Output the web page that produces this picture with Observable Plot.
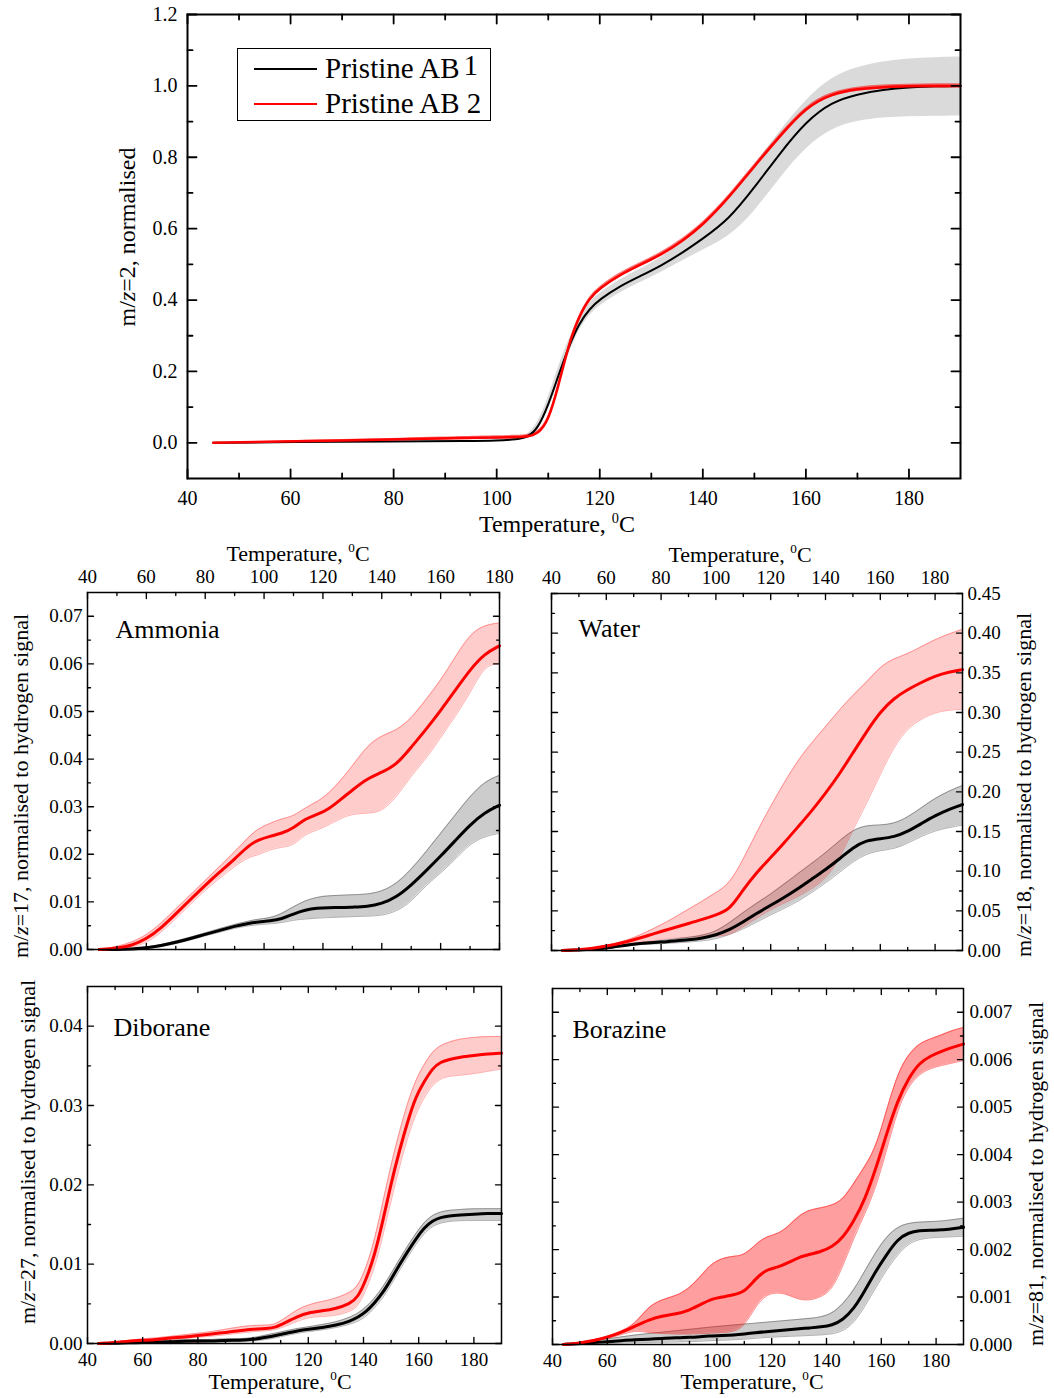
<!DOCTYPE html>
<html><head><meta charset="utf-8">
<script src="https://cdn.jsdelivr.net/npm/d3@7"></script>
<script src="https://cdn.jsdelivr.net/npm/@observablehq/plot@0.6"></script>
<style>
html,body{margin:0;padding:0;background:#fff;}
#page{position:relative;width:1054px;height:1398px;overflow:hidden;font-family:"Liberation Serif","Times New Roman",serif;color:#000;background:#fff;}
.panel{position:absolute;}
.t{position:absolute;white-space:nowrap;line-height:1;}
.t sup{font-size:0.6em;line-height:0;vertical-align:0;position:relative;top:-0.62em;}
.leg{position:absolute;border:1px solid #000;background:#fff;}
.legline{position:absolute;height:0;}
</style></head><body><div id="page"></div>
<script>
// ---------- Data ----------
// Top panel: m/z = 2 (hydrogen), normalised
const h2_T      = [45, 60, 80, 95, 100, 104, 106, 108, 110, 112, 114, 116, 118, 120, 124, 128, 132, 136, 140, 145, 150, 155, 160, 165, 170, 175, 180, 185, 190];
const h2_ab1    = [0, 0.002, 0.004, 0.005, 0.006, 0.009, 0.016, 0.04, 0.105, 0.19, 0.27, 0.335, 0.375, 0.402, 0.44, 0.468, 0.497, 0.532, 0.572, 0.625, 0.715, 0.812, 0.9, 0.955, 0.977, 0.989, 0.996, 0.999, 1.0];
const h2_ab1_lo = [0, 0.002, 0.004, 0.005, 0.005, 0.007, 0.012, 0.03, 0.09, 0.17, 0.25, 0.318, 0.358, 0.385, 0.422, 0.45, 0.478, 0.51, 0.54, 0.575, 0.645, 0.743, 0.828, 0.881, 0.902, 0.911, 0.914, 0.915, 0.916];
const h2_ab1_hi = [0, 0.002, 0.004, 0.005, 0.007, 0.012, 0.022, 0.055, 0.125, 0.215, 0.29, 0.352, 0.392, 0.42, 0.458, 0.487, 0.518, 0.565, 0.612, 0.687, 0.777, 0.875, 0.962, 1.025, 1.053, 1.068, 1.076, 1.079, 1.081];
const h2_ab2    = [0, 0.004, 0.009, 0.014, 0.015, 0.016, 0.017, 0.025, 0.06, 0.16, 0.278, 0.355, 0.405, 0.433, 0.472, 0.5, 0.528, 0.565, 0.61, 0.686, 0.775, 0.86, 0.94, 0.978, 0.992, 0.997, 0.999, 1.0, 1.0];
const h2_ab2_lo = [0, 0.001, 0.005, 0.009, 0.01, 0.011, 0.012, 0.019, 0.054, 0.154, 0.272, 0.349, 0.399, 0.427, 0.466, 0.494, 0.522, 0.559, 0.604, 0.68, 0.769, 0.854, 0.934, 0.972, 0.986, 0.991, 0.993, 0.994, 0.994];
const h2_ab2_hi = [0, 0.006, 0.012, 0.018, 0.02, 0.021, 0.022, 0.031, 0.066, 0.166, 0.284, 0.361, 0.411, 0.439, 0.478, 0.506, 0.534, 0.571, 0.616, 0.692, 0.781, 0.866, 0.946, 0.984, 0.998, 1.003, 1.005, 1.006, 1.006];

// Ammonia: m/z = 17
const nh3_T      = [44, 50, 55, 60, 65, 70, 75, 80, 85, 90, 95, 98, 102, 106, 110, 114, 118, 122, 126, 130, 135, 140, 145, 150, 155, 160, 165, 170, 175, 180];
const nh3_ab2    = [0, 0.0003, 0.0008, 0.0022, 0.0045, 0.0075, 0.0105, 0.0135, 0.0163, 0.019, 0.022, 0.023, 0.0238, 0.0244, 0.0255, 0.0275, 0.0283, 0.0295, 0.0315, 0.0335, 0.0359, 0.0372, 0.0388, 0.0425, 0.0462, 0.0502, 0.0545, 0.0588, 0.0622, 0.0638];
const nh3_ab2_hi = [0, 0.0006, 0.0015, 0.003, 0.0055, 0.0085, 0.0115, 0.0145, 0.0175, 0.0205, 0.0238, 0.0254, 0.0265, 0.0275, 0.028, 0.0298, 0.031, 0.0328, 0.0355, 0.0385, 0.0428, 0.045, 0.046, 0.0485, 0.0525, 0.0565, 0.0615, 0.0663, 0.0682, 0.0686];
const nh3_ab2_lo = [0, 0.0001, 0.0004, 0.0014, 0.0035, 0.0065, 0.0095, 0.0125, 0.015, 0.0175, 0.0195, 0.0198, 0.021, 0.0215, 0.0218, 0.0243, 0.025, 0.0262, 0.0275, 0.0285, 0.0286, 0.0289, 0.032, 0.0365, 0.04, 0.0445, 0.049, 0.0538, 0.0598, 0.06];
const nh3_ab1    = [0, 0, 0.0001, 0.0003, 0.0008, 0.0015, 0.0023, 0.0032, 0.004, 0.0049, 0.0055, 0.0058, 0.006, 0.0064, 0.0075, 0.0083, 0.0087, 0.0088, 0.0088, 0.0089, 0.009, 0.0096, 0.011, 0.0135, 0.0165, 0.0196, 0.0229, 0.0262, 0.0288, 0.0303];
const nh3_ab1_hi = [0, 0.0001, 0.0002, 0.0005, 0.001, 0.0018, 0.0026, 0.0035, 0.0044, 0.0053, 0.006, 0.0064, 0.0066, 0.0075, 0.009, 0.0103, 0.011, 0.0113, 0.0114, 0.0115, 0.0116, 0.0122, 0.0138, 0.0168, 0.0205, 0.0244, 0.0283, 0.0322, 0.0353, 0.0366];
const nh3_ab1_lo = [0, 0, 0, 0.0002, 0.0006, 0.0012, 0.002, 0.0029, 0.0036, 0.0045, 0.005, 0.0052, 0.0054, 0.0056, 0.0062, 0.0064, 0.0066, 0.0067, 0.0068, 0.0069, 0.007, 0.0071, 0.008, 0.01, 0.0135, 0.016, 0.019, 0.0222, 0.0238, 0.0244];

// Water: m/z = 18
const h2o_T      = [44, 50, 55, 60, 65, 70, 75, 80, 85, 90, 95, 100, 105, 110, 115, 120, 125, 130, 135, 140, 145, 150, 155, 160, 165, 170, 175, 180, 185, 190];
const h2o_ab2    = [0, 0.001, 0.0025, 0.0055, 0.009, 0.0135, 0.0185, 0.024, 0.029, 0.034, 0.039, 0.045, 0.051, 0.077, 0.099, 0.117, 0.136, 0.156, 0.176, 0.198, 0.222, 0.249, 0.276, 0.301, 0.318, 0.329, 0.338, 0.346, 0.351, 0.354];
const h2o_ab2_hi = [0, 0.001, 0.003, 0.006, 0.0105, 0.016, 0.024, 0.032, 0.042, 0.052, 0.062, 0.073, 0.084, 0.115, 0.15, 0.182, 0.212, 0.24, 0.262, 0.282, 0.303, 0.322, 0.338, 0.358, 0.368, 0.374, 0.383, 0.392, 0.399, 0.405];
const h2o_ab2_lo = [0, 0.001, 0.002, 0.005, 0.0075, 0.01, 0.012, 0.014, 0.016, 0.017, 0.018, 0.018, 0.019, 0.03, 0.041, 0.052, 0.06, 0.068, 0.078, 0.09, 0.115, 0.152, 0.185, 0.222, 0.257, 0.28, 0.292, 0.3, 0.303, 0.304];
const h2o_ab1    = [0, 0.0007, 0.0015, 0.003, 0.0055, 0.008, 0.0095, 0.0105, 0.012, 0.0135, 0.0155, 0.0195, 0.026, 0.036, 0.047, 0.057, 0.067, 0.078, 0.09, 0.102, 0.115, 0.13, 0.139, 0.141, 0.143, 0.15, 0.16, 0.17, 0.178, 0.184];
const h2o_ab1_hi = [0, 0.001, 0.002, 0.004, 0.0065, 0.009, 0.011, 0.0125, 0.0145, 0.0165, 0.019, 0.024, 0.035, 0.048, 0.06, 0.071, 0.084, 0.097, 0.11, 0.123, 0.138, 0.152, 0.158, 0.158, 0.16, 0.168, 0.18, 0.192, 0.201, 0.208];
const h2o_ab1_lo = [0, 0.0005, 0.001, 0.002, 0.0045, 0.007, 0.008, 0.0085, 0.0095, 0.0105, 0.012, 0.0145, 0.02, 0.027, 0.036, 0.045, 0.053, 0.062, 0.073, 0.085, 0.098, 0.112, 0.122, 0.126, 0.128, 0.135, 0.144, 0.151, 0.155, 0.158];

// Diborane: m/z = 27
const b2h6_T      = [44, 50, 55, 60, 65, 70, 75, 80, 85, 90, 95, 100, 105, 108, 112, 116, 120, 125, 130, 135, 138, 141, 144, 147, 150, 153, 156, 159, 162, 165, 168, 171, 175, 180, 185, 190];
const b2h6_ab2    = [0, 0.0001, 0.0003, 0.0004, 0.0005, 0.0007, 0.0008, 0.001, 0.0012, 0.0014, 0.0016, 0.0018, 0.0019, 0.002, 0.0027, 0.0034, 0.0039, 0.0041, 0.0044, 0.005, 0.0058, 0.0081, 0.0111, 0.0154, 0.0202, 0.0243, 0.028, 0.0312, 0.033, 0.0347, 0.0355, 0.0358, 0.0361, 0.0363, 0.0365, 0.0366];
const b2h6_ab2_hi = [0, 0.0002, 0.0004, 0.0006, 0.0007, 0.0009, 0.0011, 0.0013, 0.0015, 0.0018, 0.0021, 0.0023, 0.0023, 0.0024, 0.0033, 0.0043, 0.0049, 0.0053, 0.0057, 0.0064, 0.0072, 0.0096, 0.013, 0.0178, 0.0226, 0.0267, 0.0304, 0.0333, 0.0352, 0.0368, 0.0376, 0.038, 0.0384, 0.0386, 0.0387, 0.0387];
const b2h6_ab2_lo = [0, 0.0001, 0.0002, 0.0003, 0.0004, 0.0005, 0.0006, 0.0008, 0.0009, 0.0011, 0.0013, 0.0015, 0.0016, 0.0017, 0.0022, 0.0028, 0.0033, 0.0034, 0.0035, 0.004, 0.0046, 0.0068, 0.0095, 0.0135, 0.018, 0.0222, 0.026, 0.029, 0.031, 0.0326, 0.0334, 0.0337, 0.0338, 0.034, 0.0343, 0.0346];
const b2h6_ab1    = [0, 0, 0.0001, 0.0001, 0.0002, 0.0002, 0.0003, 0.0003, 0.0003, 0.0004, 0.0004, 0.0005, 0.0008, 0.001, 0.0013, 0.0016, 0.0018, 0.002, 0.0023, 0.0028, 0.0033, 0.004, 0.0051, 0.0064, 0.0081, 0.0099, 0.0116, 0.0132, 0.0146, 0.0155, 0.0159, 0.0161, 0.0162, 0.0163, 0.0164, 0.0164];
const b2h6_ab1_hi = [0, 0.0001, 0.0002, 0.0002, 0.0003, 0.0004, 0.0005, 0.0005, 0.0005, 0.0006, 0.0006, 0.0007, 0.0011, 0.0013, 0.0016, 0.0019, 0.0021, 0.0024, 0.0027, 0.0033, 0.0038, 0.0046, 0.0057, 0.0071, 0.0088, 0.0106, 0.0123, 0.0139, 0.0153, 0.0162, 0.0166, 0.0168, 0.0169, 0.017, 0.017, 0.017];
const b2h6_ab1_lo = [0, 0, 0, 0, 0.0001, 0.0001, 0.0001, 0.0001, 0.0002, 0.0002, 0.0002, 0.0003, 0.0005, 0.0007, 0.001, 0.0013, 0.0015, 0.0017, 0.002, 0.0024, 0.0028, 0.0034, 0.0045, 0.0057, 0.0074, 0.0092, 0.0109, 0.0125, 0.0139, 0.0148, 0.0152, 0.0154, 0.0155, 0.0155, 0.0155, 0.0155];

// Borazine: m/z = 81
const bz_T      = [44, 50, 55, 60, 65, 70, 75, 80, 85, 90, 95, 98, 102, 106, 110, 114, 118, 122, 126, 130, 134, 138, 142, 146, 150, 154, 158, 162, 166, 170, 174, 178, 182, 186, 190];
const bz_ab2    = [0, 0.00003, 0.00008, 0.00015, 0.00025, 0.00038, 0.00052, 0.0006, 0.00064, 0.00072, 0.00087, 0.00096, 0.001, 0.00105, 0.0011, 0.00138, 0.00158, 0.00162, 0.00172, 0.00184, 0.0019, 0.00196, 0.00205, 0.00225, 0.0026, 0.00305, 0.0037, 0.00445, 0.00515, 0.00562, 0.00594, 0.00608, 0.00618, 0.00626, 0.00633];
const bz_ab2_hi = [0, 0.00004, 0.0001, 0.00017, 0.00028, 0.00042, 0.0008, 0.00095, 0.00102, 0.00118, 0.0015, 0.0017, 0.00182, 0.00186, 0.00188, 0.0021, 0.00228, 0.00232, 0.00248, 0.00272, 0.00284, 0.00288, 0.00293, 0.00305, 0.0034, 0.00375, 0.00415, 0.00495, 0.00572, 0.00612, 0.00635, 0.00644, 0.00652, 0.00662, 0.00668];
const bz_ab2_lo = [0, 0.00002, 0.00006, 0.00013, 0.0002, 0.0003, 0.00025, 0.00023, 0.00022, 0.00022, 0.00023, 0.00024, 0.00025, 0.00027, 0.00037, 0.0008, 0.00105, 0.0011, 0.00105, 0.00094, 0.00093, 0.001, 0.00115, 0.00165, 0.00225, 0.00275, 0.0033, 0.0041, 0.00496, 0.00545, 0.0057, 0.00582, 0.00588, 0.00593, 0.00598];
const bz_ab1    = [0, 0.00002, 0.00004, 0.00006, 0.00008, 0.0001, 0.00011, 0.00013, 0.00014, 0.00015, 0.00017, 0.00018, 0.00019, 0.0002, 0.00022, 0.00025, 0.00027, 0.00029, 0.00031, 0.00033, 0.00035, 0.00037, 0.0004, 0.00052, 0.00075, 0.00113, 0.00155, 0.0019, 0.00222, 0.00236, 0.0024, 0.00241, 0.00241, 0.00244, 0.00247];
const bz_ab1_hi = [0, 0.00004, 0.00008, 0.00012, 0.00016, 0.0002, 0.00023, 0.00026, 0.00029, 0.00032, 0.00035, 0.00037, 0.00039, 0.00041, 0.00043, 0.00045, 0.00047, 0.00049, 0.00051, 0.00053, 0.00055, 0.00058, 0.00065, 0.00085, 0.00115, 0.00155, 0.00195, 0.00228, 0.00248, 0.00256, 0.00258, 0.00259, 0.0026, 0.00263, 0.00266];
const bz_ab1_lo = [0, 0, 0.00001, 0.00002, 0.00003, 0.00004, 0.00004, 0.00005, 0.00005, 0.00006, 0.00007, 0.00008, 0.00009, 0.0001, 0.00011, 0.00013, 0.00015, 0.00016, 0.00017, 0.00018, 0.00019, 0.0002, 0.00022, 0.00028, 0.00045, 0.0008, 0.0012, 0.00158, 0.0019, 0.00213, 0.00222, 0.00225, 0.00226, 0.00227, 0.00228];

// Tick values
const xMajor      = [40, 60, 80, 100, 120, 140, 160, 180];
const xMinor      = [50, 70, 90, 110, 130, 150, 170];
const h2_yMajor   = [0, 0.2, 0.4, 0.6, 0.8, 1.0, 1.2];
const h2_yMinor   = [0.1, 0.3, 0.5, 0.7, 0.9, 1.1];
const nh3_yMajor  = [0, 0.01, 0.02, 0.03, 0.04, 0.05, 0.06, 0.07];
const nh3_yMinor  = [0.005, 0.015, 0.025, 0.035, 0.045, 0.055, 0.065];
const h2o_yMajor  = [0, 0.05, 0.1, 0.15, 0.2, 0.25, 0.3, 0.35, 0.4, 0.45];
const h2o_yMinor  = [0.025, 0.075, 0.125, 0.175, 0.225, 0.275, 0.325, 0.375, 0.425];
const b2h6_yMajor = [0, 0.01, 0.02, 0.03, 0.04];
const b2h6_yMinor = [0.005, 0.015, 0.025, 0.035];
const bz_yMajor   = [0, 0.001, 0.002, 0.003, 0.004, 0.005, 0.006, 0.007];
const bz_yMinor   = [0.0005, 0.0015, 0.0025, 0.0035, 0.0045, 0.0055, 0.0065];

// Texts
const legendNames = ["Pristine AB", "Pristine AB 2"];
const panelNames = ["Ammonia", "Water", "Diborane", "Borazine"];
const tempTitle = "Temperature, <sup>0</sup>C";

// ---------- Drawing ----------
const page = document.getElementById("page");
const curve = "basis";
const tickShape = {draw(ctx, l) { ctx.moveTo(0, 0); ctx.lineTo(0, -l); }};

function tickMarks(xMaj, xMin, yMaj, yMin, L, l, sw) {
  const o = {stroke: "#000", strokeWidth: sw, anchor: "start", shape: tickShape};
  const out = [];
  for (const [data, len] of [[xMaj, L], [xMin, l]]) {
    out.push(Plot.vector(data, {...o, x: d => d, frameAnchor: "bottom", length: len, rotate: 0}));
    out.push(Plot.vector(data, {...o, x: d => d, frameAnchor: "top", length: len, rotate: 180}));
  }
  for (const [data, len] of [[yMaj, L], [yMin, l]]) {
    out.push(Plot.vector(data, {...o, y: d => d, frameAnchor: "left", length: len, rotate: 90}));
    out.push(Plot.vector(data, {...o, y: d => d, frameAnchor: "right", length: len, rotate: -90}));
  }
  return out;
}

function makePanel(c) {
  const rows = c.T.map((t, i) => ({t, b: c.b[i], bl: c.bl[i], bh: c.bh[i], r: c.r[i], rl: c.rl[i], rh: c.rh[i]}));
  const marks = [Plot.areaY(rows, {x: "t", y1: "bl", y2: "bh", fill: c.greyFill, curve})];
  if (c.greyEdge) {
    marks.push(Plot.line(rows, {x: "t", y: "bl", stroke: c.greyEdge, strokeWidth: 1, curve}));
    marks.push(Plot.line(rows, {x: "t", y: "bh", stroke: c.greyEdge, strokeWidth: 1, curve}));
  }
  marks.push(Plot.areaY(rows, {x: "t", y1: "rl", y2: "rh", fill: c.redFill, curve}));
  if (c.redEdge) {
    marks.push(Plot.line(rows, {x: "t", y: "rl", stroke: c.redEdge, strokeWidth: 1, curve}));
    marks.push(Plot.line(rows, {x: "t", y: "rh", stroke: c.redEdge, strokeWidth: 1, curve}));
  }
  marks.push(Plot.line(rows, {x: "t", y: "b", stroke: "#000", strokeWidth: c.bw, curve}));
  marks.push(Plot.line(rows, {x: "t", y: "r", stroke: "#ff0000", strokeWidth: c.rw, curve}));
  marks.push(Plot.frame({stroke: "#000", strokeWidth: c.fw}));
  marks.push(...tickMarks(xMajor, xMinor, c.yMaj, c.yMin, c.tL, c.tl, c.fw * 0.9));
  marks.push(Plot.axisX({anchor: c.xAnchor, ticks: xMajor, tickSize: 0, tickPadding: c.xPad, label: null, tickFormat: d => String(d), fontSize: c.fs}));
  marks.push(Plot.axisY({anchor: c.yAnchor, ticks: c.yMaj, tickSize: 0, tickPadding: c.yPad, label: null, tickFormat: d3.format(c.yFmt), fontSize: c.fs}));
  if (c.name) marks.push(Plot.text([c.name], {frameAnchor: "top-left", text: d => d, dx: c.nameDx, dy: c.nameDy, textAnchor: "start", lineAnchor: "top", fontSize: 26, fill: "#000"}));
  const {box, frame} = c;
  const svg = Plot.plot({
    width: box.w, height: box.h,
    marginLeft: frame.x0 - box.left,
    marginRight: box.left + box.w - frame.x1,
    marginTop: frame.y0 - box.top,
    marginBottom: box.top + box.h - frame.y1,
    x: {type: "linear", domain: c.xDomain},
    y: {type: "linear", domain: c.yDomain},
    style: {fontFamily: '"Liberation Serif","Times New Roman",serif', fontSize: c.fs + "px", color: "#000", background: "transparent", overflow: "visible"},
    marks
  });
  const wrap = document.createElement("div");
  wrap.className = "panel";
  wrap.style.left = box.left + "px";
  wrap.style.top = box.top + "px";
  wrap.appendChild(svg);
  page.appendChild(wrap);
}

function htext(html, x, baseline, fs, anchor = "middle") {
  const d = document.createElement("div");
  d.className = "t";
  d.innerHTML = html;
  d.style.fontSize = fs + "px";
  d.style.left = x + "px";
  d.style.top = (baseline - 0.8375 * fs) + "px";
  if (anchor === "middle") d.style.transform = "translateX(-50%)";
  page.appendChild(d);
  return d;
}
function vtext(html, cx, cy, fs) {
  const d = document.createElement("div");
  d.className = "t";
  d.innerHTML = html;
  d.style.fontSize = fs + "px";
  d.style.left = cx + "px";
  d.style.top = cy + "px";
  d.style.transform = "translate(-50%,-50%) rotate(-90deg)";
  page.appendChild(d);
}

const smallPanel = {xDomain: [40, 190], tL: 6, tl: 3, fw: 1.5, bw: 3, rw: 3, fs: 19,
  greyFill: "rgba(0,0,0,0.2)", greyEdge: "rgba(0,0,0,0.3)", redFill: "rgba(255,0,0,0.2)", redEdge: "rgba(255,0,0,0.3)"};

// Top panel
makePanel({
  T: h2_T, b: h2_ab1, bl: h2_ab1_lo, bh: h2_ab1_hi, r: h2_ab2, rl: h2_ab2_lo, rh: h2_ab2_hi,
  box: {left: 0, top: 0, w: 1054, h: 540}, frame: {x0: 187, x1: 960, y0: 14, y1: 478},
  xDomain: [40, 190], yDomain: [-0.1, 1.2], yMaj: h2_yMajor, yMin: h2_yMinor, yFmt: ".1f",
  xAnchor: "bottom", yAnchor: "left", xPad: 12, yPad: 10, tL: 9, tl: 5, fw: 2, bw: 2, rw: 2.5, fs: 20,
  greyFill: "rgba(0,0,0,0.145)", greyEdge: null, redFill: "rgba(255,0,0,0.55)", redEdge: null
});
// Ammonia
makePanel({...smallPanel,
  T: nh3_T, b: nh3_ab1, bl: nh3_ab1_lo, bh: nh3_ab1_hi, r: nh3_ab2, rl: nh3_ab2_lo, rh: nh3_ab2_hi,
  box: {left: 0, top: 530, w: 527, h: 430}, frame: {x0: 87, x1: 499, y0: 592, y1: 949},
  xDomain: [40, 180], yDomain: [0, 0.075], yMaj: nh3_yMajor, yMin: nh3_yMinor, yFmt: ".2f",
  xAnchor: "top", yAnchor: "left", xPad: 10, yPad: 5, name: panelNames[0], nameDx: 28, nameDy: 27.5
});
// Water
makePanel({...smallPanel,
  T: h2o_T, b: h2o_ab1, bl: h2o_ab1_lo, bh: h2o_ab1_hi, r: h2o_ab2, rl: h2o_ab2_lo, rh: h2o_ab2_hi,
  box: {left: 527, top: 530, w: 527, h: 430}, frame: {x0: 551, x1: 962, y0: 593, y1: 950},
  yDomain: [0, 0.45], yMaj: h2o_yMajor, yMin: h2o_yMinor, yFmt: ".2f",
  xAnchor: "top", yAnchor: "right", xPad: 10, yPad: 5, name: panelNames[1], nameDx: 27, nameDy: 25.5
});
// Diborane
makePanel({...smallPanel,
  T: b2h6_T, b: b2h6_ab1, bl: b2h6_ab1_lo, bh: b2h6_ab1_hi, r: b2h6_ab2, rl: b2h6_ab2_lo, rh: b2h6_ab2_hi,
  box: {left: 0, top: 960, w: 527, h: 438}, frame: {x0: 87, x1: 501, y0: 986, y1: 1343},
  yDomain: [0, 0.045], yMaj: b2h6_yMajor, yMin: b2h6_yMinor, yFmt: ".2f",
  xAnchor: "bottom", yAnchor: "left", xPad: 9, yPad: 5, name: panelNames[2], nameDx: 26, nameDy: 31.5
});
// Borazine
makePanel({...smallPanel,
  T: bz_T, b: bz_ab1, bl: bz_ab1_lo, bh: bz_ab1_hi, r: bz_ab2, rl: bz_ab2_lo, rh: bz_ab2_hi,
  box: {left: 527, top: 960, w: 527, h: 438}, frame: {x0: 552, x1: 963, y0: 988, y1: 1344},
  yDomain: [0, 0.0075], yMaj: bz_yMajor, yMin: bz_yMinor, yFmt: ".3f",
  xAnchor: "bottom", yAnchor: "right", xPad: 9, yPad: 6, name: panelNames[3], nameDx: 20, nameDy: 31.5,
  redFill: "rgba(255,0,0,0.38)", redEdge: "rgba(255,0,0,0.45)"
});

// Axis titles
htext(tempTitle, 557, 532, 24);
vtext("m/<i>z</i>=2, normalised", 127, 237, 24);
htext(tempTitle, 298, 561, 22);
htext(tempTitle, 740, 562, 22);
htext(tempTitle, 280, 1389, 22);
htext(tempTitle, 752, 1389, 22);
vtext("m/<i>z</i>=17, normalised to hydrogen signal", 21, 786, 22);
vtext("m/<i>z</i>=18, normalised to hydrogen signal", 1024, 785, 22);
vtext("m/<i>z</i>=27, normalised to hydrogen signal", 28, 1152, 22);
vtext("m/<i>z</i>=81, normalised to hydrogen signal", 1036, 1174, 22);

// Legend (top panel)
const leg = document.createElement("div");
leg.className = "leg";
leg.style.left = "237px"; leg.style.top = "48px"; leg.style.width = "252px"; leg.style.height = "71px";
page.appendChild(leg);
function legLine(y, color, w) {
  const l = document.createElement("div");
  l.className = "legline";
  l.style.left = "254px"; l.style.width = "63px";
  l.style.top = (y - w / 2) + "px";
  l.style.borderTop = w + "px solid " + color;
  page.appendChild(l);
}
legLine(69, "#000", 2);
legLine(104, "#ff0000", 2.5);
htext(legendNames[0] + '<span style="position:relative;top:-3px;margin-left:4px">1</span>', 325, 78, 29, "start");
htext(legendNames[1], 325, 113, 29, "start");
</script></body></html>
